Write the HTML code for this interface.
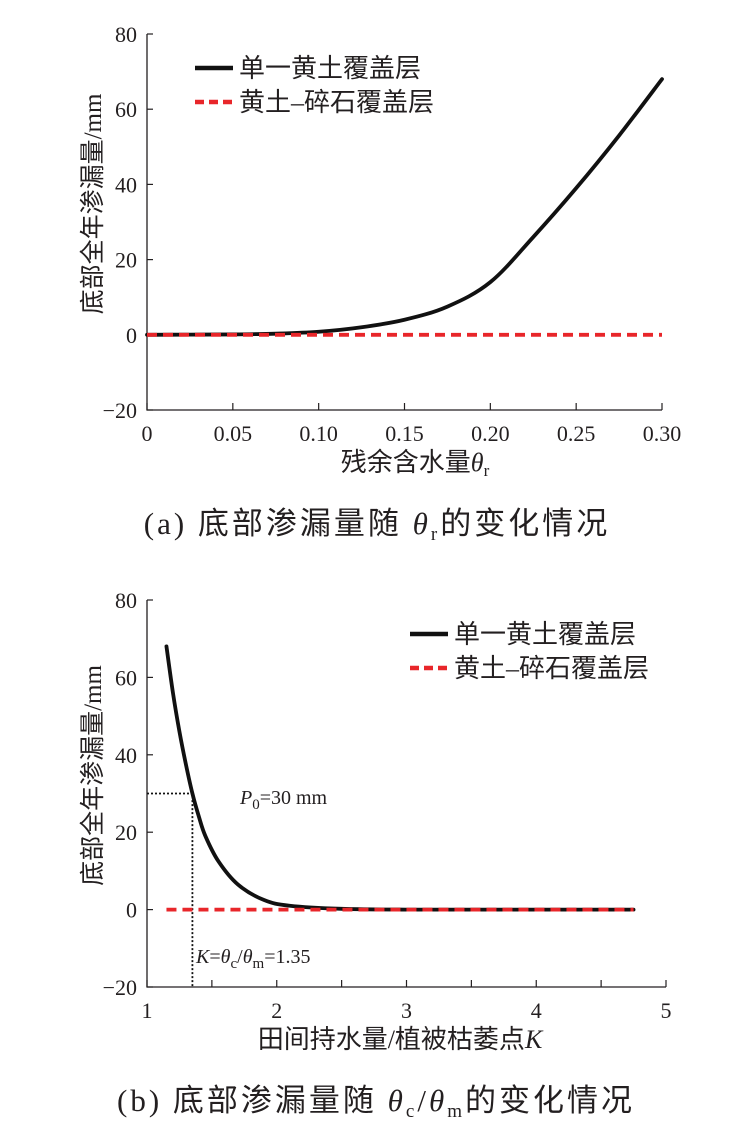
<!DOCTYPE html>
<html><head><meta charset="utf-8">
<style>
body{margin:0;background:#fff;}
svg text{font-family:"Liberation Serif","Noto Serif CJK SC",serif;fill:#231f20;}
.cj{font-family:"Liberation Serif","Noto Sans CJK SC",sans-serif;}
</style></head>
<body>
<svg id="s" width="753" height="1139" viewBox="0 0 753 1139" xmlns="http://www.w3.org/2000/svg"></svg>
<script>
// Chart (a) data
const aX = [0, 0.025, 0.05, 0.075, 0.10, 0.125, 0.15, 0.175, 0.20, 0.225, 0.25, 0.275, 0.30];
const aY = [0, 0.05, 0.1, 0.3, 0.8, 2, 4, 7.5, 14, 26, 39, 53, 68];
const aRedX = [0, 0.30];
const aRedY = [0, 0];
const aXTicks = [0, 0.05, 0.10, 0.15, 0.20, 0.25, 0.30];
const aXLabels = ["0", "0.05", "0.10", "0.15", "0.20", "0.25", "0.30"];
const yTicks = [80, 60, 40, 20, 0, -20];
const yLabels = ["80", "60", "40", "20", "0", "\u221220"];
// Chart (b) data
const bX = [1.15, 1.2, 1.25, 1.3, 1.35, 1.4, 1.45, 1.55, 1.7, 1.9, 2.1, 2.5, 3.0, 4.0, 4.75];
const bY = [68, 56, 46, 37.5, 30, 24, 19, 12.5, 6.5, 2.5, 1, 0.2, 0, 0, 0];
const bRedX = [1.15, 4.75];
const bRedY = [0, 0];
const bXTicks = [1, 2, 3, 4, 5];
const bMinor = [1.5, 2.5, 3.5, 4.5];
const bXLabels = ["1", "2", "3", "4", "5"];
const bK = [1.35];
const bP0 = [30];

const NS = "http://www.w3.org/2000/svg";
const svg = document.getElementById('s');
function mk(tag, attrs, parent, txt){
  const e = document.createElementNS(NS, tag);
  for (const k in attrs) e.setAttribute(k, attrs[k]);
  if (txt !== undefined) e.textContent = txt;
  (parent || svg).appendChild(e);
  return e;
}
function smooth(pts){
  let d = 'M' + pts[0][0] + ',' + pts[0][1];
  for (let i = 0; i < pts.length - 1; i++){
    const p0 = pts[Math.max(0, i-1)], p1 = pts[i], p2 = pts[i+1], p3 = pts[Math.min(pts.length-1, i+2)];
    const c1 = [p1[0] + (p2[0]-p0[0])/6, p1[1] + (p2[1]-p0[1])/6];
    const c2 = [p2[0] - (p3[0]-p1[0])/6, p2[1] - (p3[1]-p1[1])/6];
    d += ` C${c1[0]},${c1[1]} ${c2[0]},${c2[1]} ${p2[0]},${p2[1]}`;
  }
  return d;
}
function chart(cfg){
  const g = mk('g', {});
  
  
  const sx = v => cfg.x0 + (v - cfg.xmin) / (cfg.xmax - cfg.xmin) * (cfg.x1 - cfg.x0);
  const sy = v => cfg.y1 + (v - (-20)) / 100 * (cfg.y0 - cfg.y1);
  const ax = mk('path', {d:`M${cfg.x0},${cfg.y0} V${cfg.y1} H${cfg.x1}`, fill:'none', stroke:'#231f20', 'stroke-width':1.3}, g);
  
  
  yTicks.forEach((t, i) => {
    mk('line', {x1:cfg.x0, x2:cfg.x0+6, y1:sy(t), y2:sy(t), stroke:'#231f20', 'stroke-width':1.2}, g);
    const l = mk('text', {x:cfg.x0-10, y:sy(t)+8, 'font-size':22, 'text-anchor':'end'}, g, yLabels[i]);
    
    
  });
  cfg.xt.forEach((t, i) => {
    mk('line', {x1:sx(t), x2:sx(t), y1:cfg.y1, y2:cfg.y1-7, stroke:'#231f20', 'stroke-width':1.2}, g);
    const l = mk('text', {x:sx(t), y:cfg.y1+31, 'font-size':22, 'text-anchor':'middle'}, g, cfg.xl[i]);
    
    
  });
  (cfg.minor||[]).forEach(t => mk('line', {x1:sx(t), x2:sx(t), y1:cfg.y1, y2:cfg.y1-7, stroke:'#231f20', 'stroke-width':1.2}, g));
  const yt = mk('text', {transform:`translate(${cfg.x0-46},${(cfg.y0+cfg.y1)/2 - 18}) rotate(-90)`, 'font-size':25, 'text-anchor':'middle', class:'cj'}, g, '底部全年渗漏量/mm');
  
  
  if (cfg.extra) cfg.extra(g, sx, sy);
  const redD = cfg.rx.map((v,i)=>(i?'L':'M')+sx(v)+','+sy(cfg.ry[i])).join(' ');
  const blk = mk('path', {d:smooth(cfg.sx_.map((v,i)=>[sx(v), sy(cfg.sy_[i])])), fill:'none', stroke:'#111', 'stroke-width':3.8, 'stroke-linejoin':'round', 'stroke-linecap':'round'}, g);
  
  
  const red = mk('path', {d:redD, fill:'none', stroke:'#e8262a', 'stroke-width':3.8, 'stroke-dasharray':'10,6'}, g);
  
  
  const lg = mk('g', {}, g);
  
  
  mk('line', {x1:cfg.lx, x2:cfg.lx+38, y1:cfg.ly, y2:cfg.ly, stroke:'#111', 'stroke-width':4.5}, lg);
  const t1 = mk('text', {x:cfg.lx+44, y:cfg.ly+9, 'font-size':26, class:'cj'}, lg, '单一黄土覆盖层');
  
  
  mk('line', {x1:cfg.lx, x2:cfg.lx+38, y1:cfg.ly+34, y2:cfg.ly+34, stroke:'#e8262a', 'stroke-width':4.5, 'stroke-dasharray':'9,5'}, lg);
  const t2 = mk('text', {x:cfg.lx+44, y:cfg.ly+43, 'font-size':26, class:'cj'}, lg, '黄土–碎石覆盖层');
  
  
}
chart({name:'chart-a', x0:147, x1:662, y0:34, y1:410, xmin:0, xmax:0.30, xt:aXTicks, xl:aXLabels,
  sx_:aX, sy_:aY, rx:aRedX, ry:aRedY, lx:195, ly:68});
chart({name:'chart-b', x0:147, x1:666, y0:600, y1:987, xmin:1, xmax:5, xt:bXTicks, xl:bXLabels, minor:bMinor,
  sx_:bX, sy_:bY, rx:bRedX, ry:bRedY, lx:410, ly:634,
  extra:(g, sx, sy)=>{
    const k = bK[0], p = bP0[0];
    const d = mk('path', {d:`M${sx(1)},${sy(p)} H${sx(k)} V${sy(-20)}`, fill:'none', stroke:'#111', 'stroke-width':1.8, 'stroke-dasharray':'2,2'}, g);
    
    
    const a1 = mk('text', {x:240, y:804, 'font-size':20}, g);
    
    
    a1.innerHTML = '<tspan font-style="italic">P</tspan><tspan font-size="15" dy="5">0</tspan><tspan dy="-5">=30 mm</tspan>';
    const a2 = mk('text', {x:196, y:963, 'font-size':20}, g);
    
    
    a2.innerHTML = '<tspan font-style="italic">K</tspan>=<tspan font-style="italic">θ</tspan><tspan font-size="15" dy="5">c</tspan><tspan dy="-5">/</tspan><tspan font-style="italic">θ</tspan><tspan font-size="15" dy="5">m</tspan><tspan dy="-5">=1.35</tspan>';
  }});
let e;
e = mk('text', {x:415, y:471, 'font-size':26, 'text-anchor':'middle', class:'cj'});
e.innerHTML = '残余含水量<tspan font-style="italic">θ</tspan><tspan font-size="17" dy="5">r</tspan>';


e = mk('text', {x:377, y:534, 'font-size':31, 'letter-spacing':3, 'text-anchor':'middle', class:'cj'});
e.innerHTML = '(a) 底部渗漏量随 <tspan font-style="italic">θ</tspan><tspan font-size="19" dy="6">r</tspan><tspan dy="-6">的变化情况</tspan>';


e = mk('text', {x:400, y:1048, 'font-size':26, 'text-anchor':'middle', class:'cj'});
e.innerHTML = '田间持水量/植被枯萎点<tspan font-style="italic">K</tspan>';


e = mk('text', {x:376, y:1111, 'font-size':31, 'letter-spacing':3, 'text-anchor':'middle', class:'cj'});
e.innerHTML = '(b) 底部渗漏量随 <tspan font-style="italic">θ</tspan><tspan font-size="19" dy="6">c</tspan><tspan dy="-6">/</tspan><tspan font-style="italic">θ</tspan><tspan font-size="19" dy="6">m</tspan><tspan dy="-6">的变化情况</tspan>';


</script>
</body></html>
